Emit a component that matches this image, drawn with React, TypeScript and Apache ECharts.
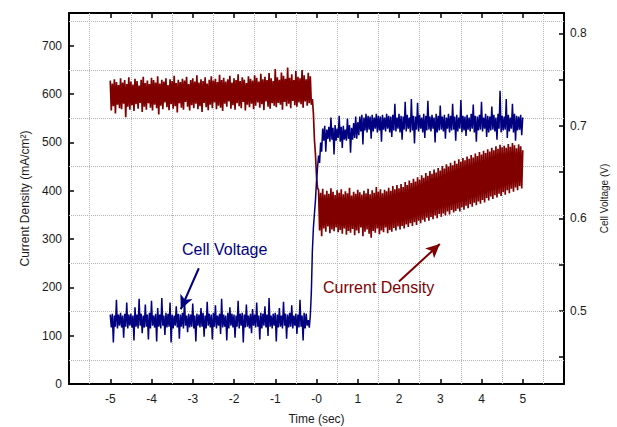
import React, { useEffect, useRef } from "react";
import * as echarts from "echarts";

// sampling step of the recorded traces (seconds)
const STEP = 0.025;

// Current density (mA/cm2), left axis
const CUR_PRE_START = -5;
const CUR_PRE = [
  628,566, 622,575, 631,560, 625,578, 619,571, 633,569, 624,580, 629,552, 621,574, 635,568,
  626,577, 620,565, 632,579, 627,570, 618,582, 630,563, 636,574, 623,568, 628,581, 621,572,
  634,566, 629,578, 624,571, 637,558, 622,576, 630,569, 626,583, 633,573, 619,567, 631,579,
  627,570, 638,575, 623,562, 630,581, 625,572, 632,568, 628,584, 636,574, 621,566, 629,577,
  633,571, 626,580, 639,569, 624,575, 631,563, 627,582, 635,573, 622,567, 630,578, 637,571,
  628,583, 632,569, 625,576, 640,572, 629,565, 634,580, 626,574, 631,585, 638,570, 624,577,
  633,568, 629,581, 641,575, 627,571, 635,584, 630,566, 623,578, 637,573, 632,580, 628,569,
  639,576, 634,583, 626,572, 642,579, 631,567, 636,585, 629,574, 644,570, 633,581, 627,576,
  652,573, 635,582, 630,578, 645,568, 638,584, 632,575, 655,580, 634,571, 641,586, 629,577,
  648,574, 636,583, 633,579, 650,572, 639,585, 631,576, 644,581, 637,578,
];
const CUR_DROP_START = -0.1;
const CUR_DROP = [590, 560, 505, 475, 430, 405];
const CUR_POST_START = 0.05;
const CUR_POST = [
  402,318, 396,306, 404,322, 392,315, 400,326, 394,312, 405,320, 398,316, 391,324, 401,
  314,396, 319,403, 311,393, 322,399, 309,395,
  317,406, 313,390, 321,398, 308,394, 318,402,
  312,397, 324,392, 306,400, 315,395, 320,404,
  311,393, 303,401, 317,396, 313,408, 322,398,
  310,403, 318,395, 314,402, 324,399, 312,406,
  319,400, 315,410, 323,403, 318,412, 326,405,
  320,414, 327,408, 322,418, 330,412, 325,421,
  333,416, 327,425, 335,419, 329,428, 338,423,
  333,432, 340,427, 336,437, 344,431, 338,441,
  346,435, 341,444, 349,438, 343,447, 352,442,
  346,451, 353,446, 349,455, 357,450, 351,458,
  360,453, 355,462, 358,456, 363,465, 357,460,
  366,468, 361,463, 369,471, 364,466, 372,474,
  367,469, 375,477, 370,472, 378,480, 373,475,
  381,483, 376,478, 385,486, 380,481, 388,489,
  383,484, 391,492, 386,487, 394,495, 389,490,
  397,493, 392,489, 401,497, 395,491, 404,499,
  398,494, 407,488, 401,496, 410,492, 405,484,
];

// Cell voltage (V), right axis
const VOLT_PRE_START = -5;
const VOLT_PRE = [
  .496,.482, .497,.466, .495,.483, .512,.481, .496,.484, .498,.482, .495,.471, .497,.483, .509,.481, .496,.484,
  .497,.482, .495,.468, .504,.483, .496,.481, .513,.484, .497,.476, .495,.482, .507,.483, .496,.469, .498,.481,
  .511,.484, .495,.482, .497,.467, .503,.483, .496,.481, .514,.484, .495,.474, .498,.482, .497,.483, .509,.466,
  .496,.481, .495,.484, .505,.482, .497,.470, .496,.483, .498,.481, .512,.484, .495,.477, .497,.482, .496,.483,
  .508,.481, .495,.467, .497,.484, .496,.482, .503,.483, .498,.472, .495,.481, .510,.484, .497,.482, .496,.469,
  .498,.483, .506,.481, .495,.484, .497,.475, .513,.482, .496,.483, .495,.468, .498,.481, .504,.484, .497,.482,
  .496,.471, .495,.483, .511,.481, .497,.484, .498,.466, .496,.482, .507,.483, .495,.481, .497,.476, .502,.484,
  .496,.482, .509,.483, .495,.469, .498,.481, .497,.484, .505,.482, .496,.473, .514,.483, .495,.481, .497,.484,
  .498,.467, .496,.482, .503,.483, .495,.481, .510,.484, .497,.470, .496,.482, .498,.483, .506,.481, .495,.484,
  .497,.475, .496,.482, .512,.483, .495,.468, .498,.481, .497,.484,
];
const VOLT_RISE_START = -0.2;
const VOLT_RISE = [.49, .482, .495, .52, .565, .59, .605, .62, .64, .655, .668, .66, .682, .672];
const VOLT_POST_START = 0.15;
const VOLT_POST = [
  .697,.684, .700,.672, .696,.686, .699,.683, .709,.685,
  .698,.669, .701,.684, .697,.687, .711,.683, .699,.676,
  .700,.685, .696,.684, .708,.686, .701,.671, .698,.685,
  .703,.687, .710,.686, .704,
  .690,.710, .694,.712, .680,.709, .695,.713, .693,.711,
  .696,.710, .686,.712, .694,.709, .697,.713, .693,.711,
  .695,.710, .683,.712, .696,.709, .694,.713, .697,.711,
  .693,.710, .688,.712, .695,.724, .694,.709, .697,.713,
  .693,.711, .685,.710, .696,.726, .694,.712, .697,.709,
  .693,.729, .695,.711, .681,.710, .696,.725, .694,.712,
  .697,.709, .693,.713, .687,.711, .695,.727, .696,.710,
  .694,.712, .697,.709, .682,.713, .693,.711, .695,.722,
  .696,.710, .694,.712, .686,.709, .697,.713, .693,.711,
  .695,.724, .696,.710, .684,.712, .694,.709, .697,.728,
  .693,.711, .695,.710, .689,.712, .696,.709, .694,.713,
  .697,.723, .693,.711, .683,.710, .695,.712, .696,.726,
  .694,.709, .697,.713, .688,.711, .693,.710, .695,.721,
  .696,.712, .694,.709, .685,.713, .697,.738, .693,.711,
  .695,.710, .696,.729, .687,.712, .694,.709, .697,.724,
  .693,.713, .684,.711, .695,.710, .696,.712, .690,.709,
];

// axes and ticks
const X_MIN = -6;
const X_MAX = 6;
const LEFT_MAX = 768;
const RIGHT_MIN = 0.421;
const RIGHT_MAX = 0.822;
const RIGHT_LABELS = [0.5, 0.6, 0.7, 0.8];
const RIGHT_TICKS = [0.45, 0.5, 0.55, 0.6, 0.65, 0.7, 0.75, 0.8];
const GRID_X = [-5.5, -4.5, -3.5, -2.5, -1.5, -0.5, 0.5, 1.5, 2.5, 3.5, 4.5, 5.5];
const GRID_Y = [50, 150, 250, 350, 450, 550, 650, 750];

// annotations (data coordinates)
const VOLT_ARROW = [[-2.853, 0.5461], [-3.29, 0.5018]];
const CUR_ARROW = [[2.0, 212], [2.99, 290]];

function seg(start: number, values: number[]) {
  return values.map((v, k) => [+(start + k * STEP).toFixed(4), v]);
}

const FONT = "'Liberation Sans', Arial, sans-serif";
const NAVY = "#000080";
const MAROON = "#800000";

export default function App() {
  const ref = useRef<HTMLDivElement>(null);
  useEffect(() => {
    if (!ref.current) return;
    const chart = echarts.init(ref.current, undefined, { renderer: "svg" });
    const axisLine = { show: true, onZero: false, lineStyle: { color: "#000", width: 2 } };
    const axisTick = { show: true, inside: true, length: 5, lineStyle: { color: "#000", width: 1.5 } };
    const labelStyle = { color: "#1a1a1a", fontSize: 12, fontFamily: FONT };
    chart.setOption({
      animation: false,
      backgroundColor: "#fff",
      grid: { left: 69, right: 53, top: 13, bottom: 43, containLabel: false, outerBoundsMode: "none" },
      xAxis: [
        {
          type: "value", min: X_MIN, max: X_MAX, interval: 1, position: "bottom",
          axisLine, axisTick,
          splitLine: { show: false },
          axisLabel: {
            ...labelStyle, margin: 9,
            formatter: (v: number) => (v < -5.5 || v > 5.5 ? "" : v === 0 ? "-0" : String(v)),
          },
          name: "Time (sec)", nameLocation: "middle", nameGap: 29,
          nameTextStyle: { ...labelStyle, fontSize: 12 },
        },
        {
          type: "value", min: X_MIN, max: X_MAX, interval: 1, position: "top",
          axisLine, axisTick, axisLabel: { show: false }, splitLine: { show: false },
        },
      ],
      yAxis: [
        {
          type: "value", min: 0, max: LEFT_MAX, interval: 100, position: "left",
          axisLine, axisTick, splitLine: { show: false },
          axisLabel: { ...labelStyle, margin: 7, formatter: (v: number) => (v > 700 ? "" : String(v)) },
          name: "Current Density (mA/cm²)", nameLocation: "middle", nameGap: 37,
          nameTextStyle: { ...labelStyle, fontSize: 12 },
        },
        {
          type: "value", min: RIGHT_MIN, max: RIGHT_MAX, position: "right",
          axisLine, splitLine: { show: false },
          axisTick: { ...axisTick, customValues: RIGHT_TICKS },
          axisLabel: { ...labelStyle, margin: 6, customValues: RIGHT_LABELS, formatter: (v: number) => v.toFixed(1) },
          name: "Cell Voltage (V)", nameLocation: "middle", nameGap: 35,
          nameTextStyle: { ...labelStyle, fontSize: 10 },
        },
      ],
      series: [
        {
          type: "line", xAxisIndex: 0, yAxisIndex: 0, data: [], silent: true, z: 1,
          markLine: {
            silent: true, symbol: "none", z: 1, animation: false,
            label: { show: false },
            lineStyle: { color: "#b4b4b4", type: "dotted", width: 1 },
            data: [...GRID_X.map((x) => ({ xAxis: x })), ...GRID_Y.map((y) => ({ yAxis: y }))],
          },
        },
        {
          name: "Current Density", type: "line", xAxisIndex: 0, yAxisIndex: 0, z: 3,
          showSymbol: false, symbol: "none", silent: true,
          lineStyle: { color: MAROON, width: 1.7 },
          data: [...seg(CUR_PRE_START, CUR_PRE), ...seg(CUR_DROP_START, CUR_DROP), ...seg(CUR_POST_START, CUR_POST)],
          markLine: {
            silent: true, symbol: ["none", "arrow"], symbolSize: [10, 14], animation: false,
            label: { show: false },
            lineStyle: { color: MAROON, type: "solid", width: 2 },
            data: [[{ coord: CUR_ARROW[0] }, { coord: CUR_ARROW[1] }]],
          },
        },
        {
          name: "Cell Voltage", type: "line", xAxisIndex: 0, yAxisIndex: 1, z: 4,
          showSymbol: false, symbol: "none", silent: true,
          lineStyle: { color: NAVY, width: 1.5 },
          data: [...seg(VOLT_PRE_START, VOLT_PRE), ...seg(VOLT_RISE_START, VOLT_RISE), ...seg(VOLT_POST_START, VOLT_POST)],
          markLine: {
            silent: true, symbol: ["none", "arrow"], symbolSize: [10, 14], animation: false,
            label: { show: false },
            lineStyle: { color: NAVY, type: "solid", width: 2 },
            data: [[{ coord: VOLT_ARROW[0] }, { coord: VOLT_ARROW[1] }]],
          },
        },
      ],
      graphic: [
        {
          type: "text", left: 182, top: 241, z: 10,
          style: { text: "Cell Voltage", fill: NAVY, font: `16px ${FONT}` },
        },
        {
          type: "text", left: 323, top: 279, z: 10,
          style: { text: "Current Density", fill: MAROON, font: `16px ${FONT}` },
        },
      ],
    });
    return () => chart.dispose();
  }, []);
  return (
    <div
      ref={ref}
      style={{ position: "fixed", left: 0, top: 0, width: 617, height: 427, background: "#fff" }}
    />
  );
}
